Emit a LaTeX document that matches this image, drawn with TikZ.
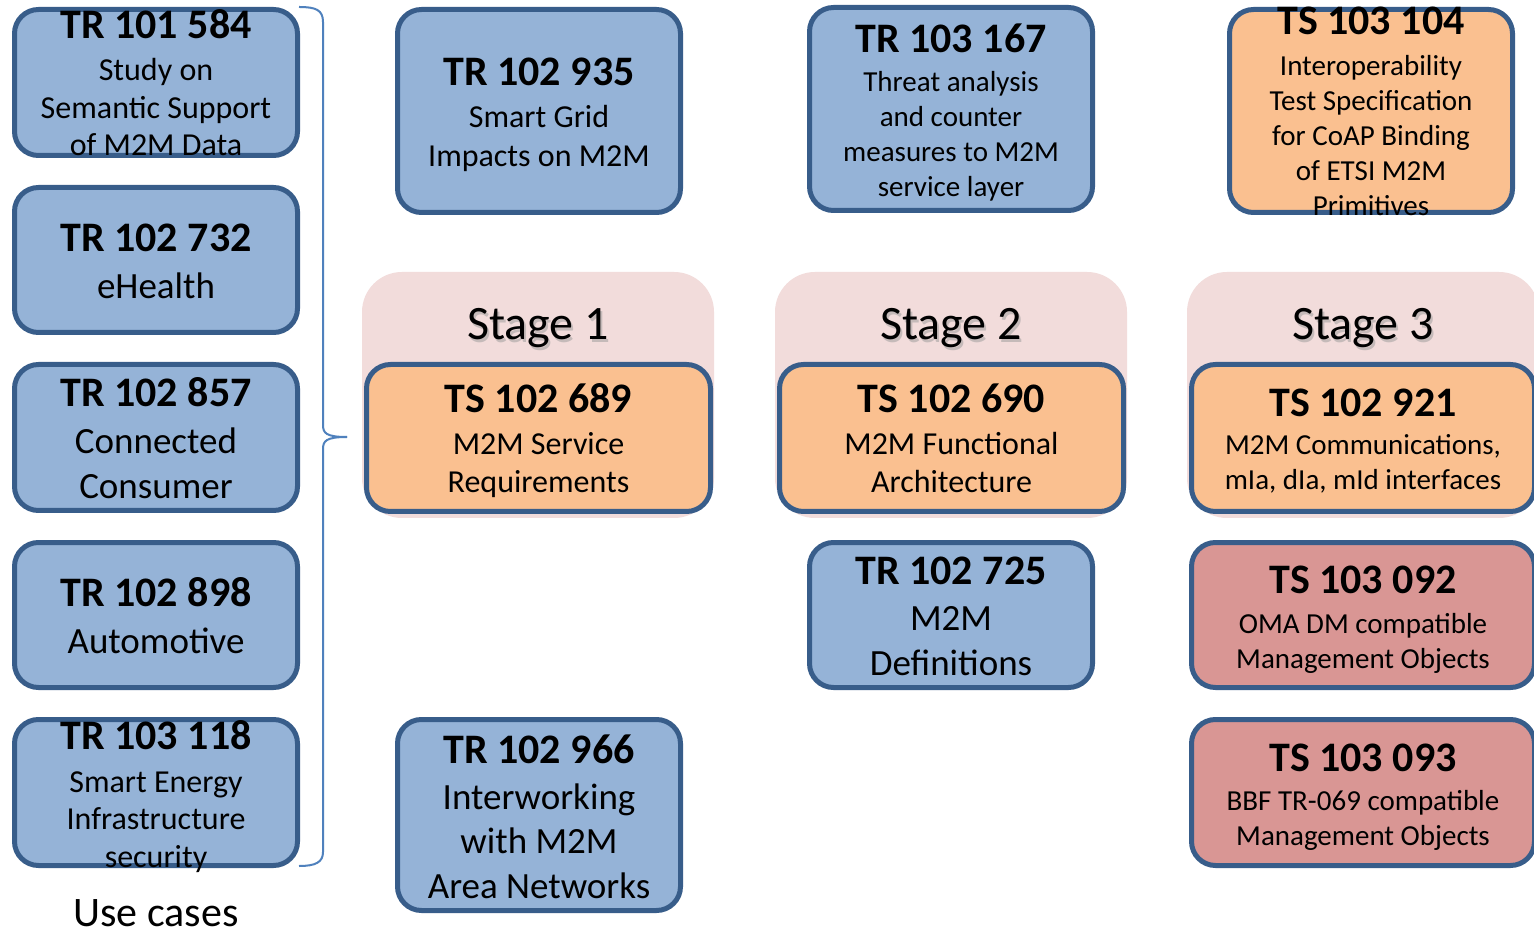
\documentclass[tikz,border=0pt]{standalone}
\usepackage{fontspec}
\setmainfont{Carlito}
\usetikzlibrary{fit}

\definecolor{boxline}{RGB}{56,93,138}
\definecolor{bluefill}{RGB}{149,179,215}
\definecolor{orangefill}{RGB}{250,192,144}
\definecolor{redfill}{RGB}{217,150,148}
\definecolor{stagefill}{RGB}{242,220,219}
\definecolor{bracecol}{RGB}{79,129,189}

\tikzset{
  docframe/.style={draw=boxline, line width=2.5pt, rounded corners=12pt, inner sep=0pt},
  bluebox/.style={docframe, fill=bluefill},
  orangebox/.style={docframe, fill=orangefill},
  redbox/.style={docframe, fill=redfill},
  stageback/.style={fill=stagefill, draw=none, rounded corners=20pt, inner sep=0pt},
  titletext/.style={inner sep=0pt, font=\bfseries\fontsize{21pt}{25pt}\selectfont},
  bodytext/.style={inner sep=0pt, align=center},
  stagetext/.style={inner sep=0pt, font=\fontsize{24pt}{28pt}\selectfont},
  bracket/.style={draw=bracecol, line width=1pt},
}

% small (29px), medium (32px) and large (37px) body fonts
\newcommand\smallbody{\fontsize{14.5pt}{17.5pt}\selectfont}
\newcommand\medbody{\fontsize{16pt}{18.75pt}\selectfont}
\newcommand\largebody{\fontsize{18.5pt}{22.5pt}\selectfont}

% #1 name, #2 style, #3 #4 corners, #5 title baseline,
% #6 baseline of the last body line, #7 body font, #8 title, #9 body
\newcommand\docbox[9]{%
  \node[#2, fit={#3 #4}] (#1) {};
  \node[titletext, anchor=base] (#1-t) at (#1.center |- 0,#5) {#8};
  \node[bodytext, anchor=base, font=#7] (#1-d) at (#1.center |- 0,#6) {#9};
}

\begin{document}
\begin{tikzpicture}[x=0.5pt, y=-0.5pt]
  \useasboundingbox (0,0) rectangle (1534,929);
  \clip (0,0) rectangle (1534,929);
  \fill[white] (0,0) rectangle (1534,929);

  % stage backdrops
  \node[stageback, fit={(362,272) (714,518)}] (st1) {};
  \node[stageback, fit={(775,272) (1127,518)}] (st2) {};
  \node[stageback, fit={(1187,272) (1539,518)}] (st3) {};
  \foreach \s/\n in {st1/1, st2/2, st3/3}{
    \node[stagetext, anchor=base, text=black!40, opacity=0.5] at ([xshift=1pt,yshift=-1.2pt]\s.center |- 0,340) {Stage \n};
    \node[stagetext, anchor=base] (\s-label) at (\s.center |- 0,340) {Stage \n};
  }

  % use case reports
  \docbox{uc1}{bluebox}{(14.5,9.5)}{(297.5,155.5)}{39}{156}{\medbody}{TR 101 584}{Study on\\Semantic Support\\of M2M Data}
  \docbox{uc2}{bluebox}{(14.5,187.5)}{(297.5,332.5)}{252}{299}{\largebody}{TR 102 732}{eHealth}
  \docbox{uc3}{bluebox}{(14.5,364.5)}{(297.5,510.5)}{407}{499}{\largebody}{TR 102 857}{Connected\\Consumer}
  \docbox{uc4}{bluebox}{(14.5,542.5)}{(297.5,687.5)}{606}{653}{\largebody}{TR 102 898}{Automotive}
  \docbox{uc5}{bluebox}{(14.5,719.5)}{(297.5,865.5)}{749}{867}{\medbody}{TR 103 118}{Smart Energy\\Infrastructure\\security}
  \node[font=\fontsize{21pt}{25pt}\selectfont, inner sep=0pt, anchor=base] (uclabel) at (156,926) {Use cases};

  % brace grouping the use cases
  \coordinate (brtop) at (299,7);
  \coordinate (brtip) at (347,437);
  \coordinate (brbot) at (299,866);
  \draw[bracket] (brtop) .. controls (316,7) and (323,10) .. (323,22) -- (323,425)
        .. controls (323,433) and (326,437) .. (brtip);
  \draw[bracket] (brtip) .. controls (326,437) and (323,441) .. (323,449) -- (323,852)
        .. controls (323,862) and (316,866) .. (brbot);

  % stage 1 column
  \docbox{c2a}{bluebox}{(397.5,9.5)}{(680.5,212.5)}{86}{167}{\fontsize{16pt}{19.5pt}\selectfont}{TR 102 935}{Smart Grid\\Impacts on M2M}
  \docbox{s1}{orangebox}{(366.5,364.5)}{(710.5,511.5)}{413}{493}{\fontsize{16pt}{19pt}\selectfont}{TS 102 689}{M2M Service\\Requirements}
  \docbox{c2b}{bluebox}{(397.5,719.5)}{(680.5,910.5)}{763}{898}{\fontsize{18.5pt}{22.25pt}\selectfont}{TR 102 966}{Interworking\\with M2M\\Area Networks}

  % stage 2 column
  \docbox{c3a}{bluebox}{(809.5,7.5)}{(1092.5,210.5)}{53}{197}{\smallbody}{TR 103 167}{Threat analysis\\and counter\\measures to M2M\\service layer}
  \docbox{s2}{orangebox}{(779.5,364.5)}{(1123.5,511.5)}{413}{493}{\fontsize{16pt}{19pt}\selectfont}{TS 102 690}{M2M Functional\\Architecture}
  \docbox{c3b}{bluebox}{(809.5,542.5)}{(1092.5,687.5)}{584}{675}{\largebody}{TR 102 725}{M2M\\Definitions}

  % stage 3 column
  \docbox{c4a}{orangebox}{(1229.5,9.5)}{(1512.5,212.5)}{35}{216}{\smallbody}{TS 103 104}{Interoperability\\Test Specification\\for CoAP Binding\\of ETSI M2M\\Primitives}
  \docbox{s3}{orangebox}{(1191.5,364.5)}{(1534.5,511.5)}{417}{490}{\smallbody}{TS 102 921}{M2M Communications,\\mIa, dIa, mId interfaces}
  \docbox{c4b}{redbox}{(1191.5,542.5)}{(1534.5,687.5)}{593}{668}{\smallbody}{TS 103 092}{OMA DM compatible\\Management Objects}
  \docbox{c4c}{redbox}{(1191.5,719.5)}{(1534.5,865.5)}{771}{845}{\smallbody}{TS 103 093}{BBF TR-069 compatible\\Management Objects}
\end{tikzpicture}
\end{document}
